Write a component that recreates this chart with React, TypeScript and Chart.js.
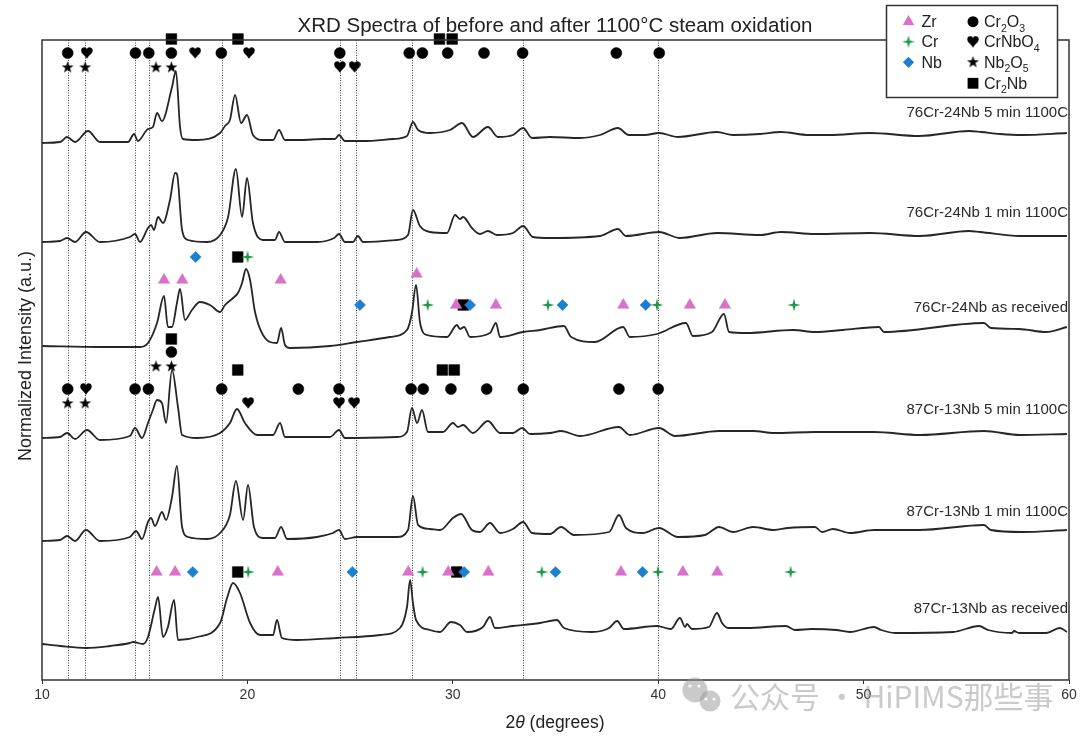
import React, { useEffect, useRef } from 'react';
import { Chart, registerables } from 'chart.js';

Chart.register(...registerables);

const FONT = '"Liberation Sans", Arial, Helvetica, sans-serif';

// ---------------- data ----------------
const xTicks = [10, 20, 30, 40, 50, 60];

// vertical dotted reference lines (2θ)
const refLines = [11.25, 12.1, 14.55, 15.2, 18.75, 24.5, 25.3, 28.0, 33.4, 40.0];

// spectra: [2θ (deg), stacked normalized intensity (a.u.)]
const spec76_5min: [number, number][] = [
  [10.0, 537], [10.88, 538], [11.22, 543], [11.61, 538], [12.24, 549], [12.82, 538], [14.19, 538], [14.48, 546],
  [14.67, 539], [15.16, 551], [15.4, 553], [15.6, 567], [15.84, 559], [16.33, 593], [16.52, 609], [16.72, 553],
  [16.86, 541], [17.55, 540], [18.67, 547], [18.91, 554], [19.15, 560], [19.4, 585], [19.69, 557], [19.98, 565],
  [20.27, 545], [20.76, 540], [21.25, 540], [21.54, 550], [21.83, 540], [22.56, 540], [23.68, 541], [24.26, 541],
  [24.46, 545], [24.75, 539], [25.63, 539], [27.09, 541], [27.77, 544], [28.06, 558], [28.31, 550], [28.89, 547],
  [29.86, 550], [30.45, 557], [30.98, 543], [31.71, 553], [32.2, 543], [32.93, 545], [33.42, 552], [33.86, 542],
  [34.73, 543], [36.19, 542], [37.17, 545], [38.04, 552], [38.57, 545], [39.35, 545], [40.04, 547], [40.96, 543],
  [42.86, 548], [43.64, 545], [44.96, 546], [45.98, 548], [47.34, 545], [48.36, 545], [50.31, 547], [52.7, 544],
  [55.13, 549], [55.72, 548], [56.64, 546], [57.71, 545], [59.9, 547],
];

const spec76_1min: [number, number][] = [
  [10.0, 438], [10.88, 439], [11.22, 442], [11.61, 438], [12.14, 448], [12.82, 438], [14.28, 443], [14.53, 446],
  [14.77, 438], [15.16, 452], [15.31, 455], [15.45, 450], [15.65, 463], [15.89, 457], [16.23, 480], [16.48, 507],
  [16.57, 506], [16.82, 450], [17.11, 440], [18.03, 438], [18.67, 445], [19.06, 463], [19.44, 511], [19.74, 463],
  [19.98, 502], [20.27, 457], [20.76, 440], [21.34, 440], [21.54, 448], [21.83, 438], [23.39, 438], [24.22, 442],
  [24.46, 446], [24.75, 438], [25.14, 438], [25.38, 444], [25.63, 438], [27.28, 440], [27.82, 445], [28.06, 470],
  [28.4, 454], [28.89, 448], [29.72, 447], [30.11, 465], [30.35, 461], [30.5, 463], [30.93, 452], [31.32, 446],
  [31.71, 449], [32.15, 445], [32.93, 447], [33.42, 454], [33.9, 443], [34.73, 442], [37.17, 444], [38.04, 451],
  [38.43, 444], [40.04, 448], [41.06, 442], [42.86, 447], [44.96, 445], [45.98, 448], [47.63, 446], [50.31, 447],
  [52.74, 444], [55.13, 449], [55.67, 448], [57.61, 444], [59.9, 444],
];

const spec76_asrec: [number, number][] = [
  [10.0, 334], [12.82, 333], [14.28, 333], [14.77, 333], [15.16, 337], [15.6, 357], [15.94, 384], [16.13, 353],
  [16.33, 353], [16.57, 377], [16.72, 391], [16.96, 360], [17.3, 370], [17.69, 378], [18.18, 375], [18.67, 368],
  [18.91, 375], [19.3, 382], [19.54, 387], [19.74, 397], [19.93, 411], [20.13, 400], [20.37, 368], [20.76, 345],
  [21.44, 337], [21.64, 352], [21.83, 335], [22.07, 332], [24.02, 334], [25.34, 338], [26.94, 343], [27.77, 350],
  [28.01, 367], [28.21, 395], [28.4, 358], [28.74, 345], [29.72, 343], [30.2, 355], [30.35, 351], [30.55, 353],
  [30.84, 343], [31.81, 347], [32.1, 357], [32.3, 343], [33.42, 348], [34.25, 350], [35.41, 354], [35.76, 343],
  [36.92, 338], [38.29, 353], [38.62, 343], [39.94, 346], [41.35, 357], [41.69, 344], [42.62, 348], [43.2, 366],
  [43.45, 348], [44.32, 347], [46.56, 350], [47.63, 348], [49.0, 350], [50.75, 353], [50.99, 348], [55.86, 357],
  [56.2, 352], [57.57, 351], [58.88, 348], [59.9, 353],
];

const spec87_5min: [number, number][] = [
  [10.0, 242], [10.88, 243], [11.22, 247], [11.61, 241], [12.19, 250], [12.82, 240], [14.28, 244], [14.53, 252],
  [14.87, 242], [15.16, 257], [15.4, 270], [15.6, 280], [15.84, 277], [16.04, 257], [16.33, 310], [16.62, 273],
  [16.82, 245], [17.55, 242], [18.67, 247], [19.15, 257], [19.49, 271], [19.88, 257], [20.47, 245], [21.25, 245],
  [21.59, 257], [21.83, 243], [24.02, 243], [24.46, 250], [24.75, 242], [27.28, 243], [27.77, 248], [28.01, 272],
  [28.26, 257], [28.5, 270], [28.79, 248], [29.52, 248], [30.01, 257], [30.25, 253], [30.5, 255], [30.98, 247],
  [31.71, 259], [32.3, 247], [32.93, 247], [33.37, 252], [33.76, 246], [34.73, 247], [35.27, 249], [36.19, 244],
  [38.09, 253], [38.62, 245], [40.04, 252], [40.82, 244], [42.96, 249], [44.62, 249], [45.64, 247], [47.63, 248],
  [50.51, 248], [52.74, 245], [55.86, 249], [57.61, 245], [59.9, 246],
];

const spec87_1min: [number, number][] = [
  [10.0, 139], [10.88, 140], [11.22, 144], [11.61, 139], [12.14, 150], [12.82, 139], [14.28, 143], [14.58, 149],
  [14.87, 141], [15.16, 158], [15.31, 162], [15.5, 154], [15.84, 168], [16.04, 160], [16.33, 183], [16.57, 214],
  [16.82, 153], [17.11, 143], [18.03, 141], [18.67, 147], [19.15, 165], [19.44, 199], [19.79, 160], [20.03, 195],
  [20.32, 153], [20.76, 142], [21.34, 142], [21.64, 153], [21.93, 141], [23.39, 143], [24.17, 147], [24.46, 150],
  [24.75, 141], [25.34, 143], [27.28, 143], [27.82, 150], [28.06, 184], [28.31, 155], [28.89, 151], [29.38, 150],
  [30.01, 162], [30.4, 166], [30.93, 150], [31.32, 148], [31.81, 157], [32.3, 147], [32.93, 151], [33.42, 158],
  [33.86, 147], [34.73, 146], [35.27, 153], [35.9, 145], [37.61, 148], [38.09, 165], [38.43, 152], [39.25, 147],
  [40.04, 152], [40.96, 143], [42.28, 145], [42.96, 153], [43.64, 148], [44.62, 153], [45.64, 150], [46.32, 152],
  [47.63, 153], [47.98, 148], [48.51, 151], [49.34, 147], [50.51, 150], [52.7, 150], [55.86, 155], [56.2, 150],
  [57.71, 148], [59.9, 150],
];

const spec87_asrec: [number, number][] = [
  [10.0, 36], [10.88, 34], [12.14, 32], [13.31, 34], [14.28, 37], [14.43, 38], [14.92, 36], [15.16, 43],
  [15.5, 72], [15.65, 83], [15.89, 43], [16.13, 53], [16.43, 80], [16.62, 40], [17.55, 43], [18.67, 57],
  [19.01, 82], [19.3, 97], [19.64, 87], [20.13, 57], [20.61, 45], [21.25, 45], [21.44, 60], [21.68, 42],
  [22.41, 40], [24.36, 42], [26.46, 45], [27.43, 52], [27.77, 73], [27.92, 100], [28.06, 77], [28.21, 60],
  [28.89, 50], [29.38, 48], [29.91, 58], [30.35, 55], [30.69, 48], [31.47, 53], [31.81, 63], [32.05, 52],
  [32.93, 54], [34.25, 57], [35.07, 60], [35.41, 52], [36.78, 48], [37.61, 52], [38.0, 59], [38.33, 51],
  [39.94, 54], [40.62, 51], [41.06, 62], [41.31, 53], [41.4, 56], [41.64, 51], [42.47, 53], [42.86, 67],
  [43.11, 57], [43.4, 52], [44.32, 52], [46.22, 54], [46.66, 50], [47.49, 51], [48.66, 50], [49.34, 48],
  [50.51, 53], [50.85, 50], [51.53, 47], [54.35, 48], [55.62, 54], [56.06, 50], [57.23, 47], [57.32, 49],
  [57.57, 47], [58.88, 47], [59.56, 52], [59.9, 48],
];

const spectra = [spec76_5min, spec76_1min, spec76_asrec, spec87_5min, spec87_1min, spec87_asrec];
const spectrumLabels = [
  '76Cr-24Nb 5 min 1100C',
  '76Cr-24Nb 1 min 1100C',
  '76Cr-24Nb as received',
  '87Cr-13Nb 5 min 1100C',
  '87Cr-13Nb 1 min 1100C',
  '87Cr-13Nb as received',
];

// phase peak markers (2θ) — 76Cr-24Nb 5 min
const a_Cr2Nb = [16.3, 19.54, 29.35, 29.97];
const a_Cr2O3 = [11.25, 14.55, 15.2, 16.3, 18.73, 24.5, 27.88, 28.52, 29.75, 31.52, 33.4, 37.96, 40.05];
const a_CrNbO4_upper = [12.18, 17.46, 20.08];
const a_CrNbO4_lower = [24.5, 25.22];
const a_Nb2O5 = [11.25, 12.1, 15.55, 16.3];
// 87Cr-13Nb 5 min
const b_Cr2Nb_upper = [16.3];
const b_Cr2Nb_lower = [19.53, 29.49, 30.07];
const b_Cr2O3_upper = [16.3];
const b_Cr2O3 = [11.25, 14.53, 15.18, 18.75, 22.48, 24.46, 27.97, 28.56, 29.91, 31.65, 33.43, 38.09, 40.0];
const b_CrNbO4_upper = [12.14];
const b_CrNbO4_lower = [20.04, 24.46, 25.2];
const b_Nb2O5_upper = [15.55, 16.3];
const b_Nb2O5_lower = [11.25, 12.1];
// 76Cr-24Nb as received
const c_Nb_upper = [17.48];
const c_Cr2Nb_upper = [19.53];
const c_Cr_upper = [20.01];
const c_Zr_upper = [15.94, 16.83, 21.62];
const c_Zr_peak = [28.24];
const c_Zr_lower = [30.16, 32.1, 38.3, 41.54, 43.25];
const c_Nb_lower = [25.48, 30.84, 35.34, 39.39];
const c_Cr_lower = [28.78, 34.63, 39.94, 46.61];
const c_Cr2Nb_lower = [30.51];
// 87Cr-13Nb as received
const d_Zr = [15.58, 16.48, 21.48, 27.83, 29.78, 31.73, 38.19, 41.2, 42.88];
const d_Nb = [17.34, 25.11, 30.55, 35.0, 39.24];
const d_Cr = [20.04, 28.53, 34.33, 39.99, 46.45];
const d_Cr2Nb = [19.53, 30.19];

// legend entries
const legendCol1 = ['Zr', 'Cr', 'Nb'];
const legendCol2 = ['Cr_2O_3', 'CrNbO_4', 'Nb_2O_5', 'Cr_2Nb'];

// ---------------- layout (positions, not data) ----------------
const LABEL_LEVEL = [563.5, 463.5, 368.5, 266.5, 164.5, 67.5];
const ROW = {
  A_sq: 641, A_top: 627, A_bot: 613,
  B_sq1: 341, B_circ: 328, B_star: 314, B_sq2: 310, B_top: 291, B_bot: 277,
  C_top: 423, C_peak: 406, C_mid: 400, C_bot: 375,
  D: 108,
};

const PINK = '#d772c8';
const GREEN = '#1c9a45';
const BLUE = '#1d7fd1';

const pts = (xs: number[], y: number) => xs.map((x) => ({ x, y }));

function pathStar(ctx: CanvasRenderingContext2D, cx: number, cy: number, R: number, r: number, n: number) {
  ctx.beginPath();
  for (let i = 0; i < n * 2; i++) {
    const rad = i % 2 === 0 ? R : r;
    const ang = -Math.PI / 2 + (i * Math.PI) / n;
    const px = cx + rad * Math.cos(ang);
    const py = cy + rad * Math.sin(ang);
    if (i === 0) ctx.moveTo(px, py);
    else ctx.lineTo(px, py);
  }
  ctx.closePath();
}

function pathHeart(ctx: CanvasRenderingContext2D, cx: number, cy: number, s: number) {
  const w = s, h = s;
  const x0 = cx - w / 2, y0 = cy - h / 2;
  ctx.beginPath();
  ctx.moveTo(cx, y0 + h);
  ctx.bezierCurveTo(x0 + w * 0.35, y0 + h * 0.72, x0, y0 + h * 0.55, x0, y0 + h * 0.28);
  ctx.bezierCurveTo(x0, y0 + h * 0.08, x0 + w * 0.15, y0, x0 + w * 0.28, y0);
  ctx.bezierCurveTo(x0 + w * 0.4, y0, x0 + w * 0.48, y0 + h * 0.08, cx, y0 + h * 0.2);
  ctx.bezierCurveTo(x0 + w * 0.52, y0 + h * 0.08, x0 + w * 0.6, y0, x0 + w * 0.72, y0);
  ctx.bezierCurveTo(x0 + w * 0.85, y0, x0 + w, y0 + h * 0.08, x0 + w, y0 + h * 0.28);
  ctx.bezierCurveTo(x0 + w, y0 + h * 0.55, x0 + w * 0.65, y0 + h * 0.72, cx, y0 + h);
  ctx.closePath();
}

function makeImg(size: number, draw: (ctx: CanvasRenderingContext2D) => void) {
  const c = document.createElement('canvas');
  c.width = size;
  c.height = size;
  const ctx = c.getContext('2d')!;
  draw(ctx);
  return c;
}

function drawSubText(ctx: CanvasRenderingContext2D, text: string, x: number, y: number, size: number) {
  let cx = x;
  let i = 0;
  while (i < text.length) {
    if (text[i] === '_') {
      const t = text[i + 1];
      ctx.font = `${size * 0.66}px ${FONT}`;
      ctx.fillText(t, cx, y + size * 0.28);
      cx += ctx.measureText(t).width;
      i += 2;
    } else {
      let j = i;
      while (j < text.length && text[j] !== '_') j++;
      const t = text.slice(i, j);
      ctx.font = `${size}px ${FONT}`;
      ctx.fillText(t, cx, y);
      cx += ctx.measureText(t).width;
      i = j;
    }
  }
}

export default function App() {
  const ref = useRef<HTMLCanvasElement | null>(null);

  useEffect(() => {
    document.body.style.margin = '0';
    const canvas = ref.current;
    if (!canvas) return;

    const heartImg = makeImg(12, (c) => { c.fillStyle = '#000'; pathHeart(c, 6, 6, 11.5); c.fill(); });
    const star5Img = makeImg(13, (c) => { c.fillStyle = '#000'; pathStar(c, 6.5, 7, 6.3, 2.5, 5); c.fill(); });
    const star4Img = makeImg(14, (c) => { c.fillStyle = GREEN; pathStar(c, 7, 7, 6.6, 1.9, 4); c.fill(); });

    const lineSets = spectra.map((s) => ({
      type: 'scatter' as const,
      data: s.map(([x, y]) => ({ x, y })),
      showLine: true,
      borderColor: '#262626',
      borderWidth: 1.8,
      pointRadius: 0,
      cubicInterpolationMode: 'monotone' as const,
      order: 20,
      borderJoinStyle: 'round' as const,
    }));

    const mk = (data: any[], style: any, color: string, radius: number, order: number) => ({
      type: 'scatter' as const,
      data,
      pointStyle: style,
      pointRadius: radius,
      pointBackgroundColor: color,
      pointBorderColor: color,
      pointBorderWidth: 0.5,
      showLine: false,
      clip: false,
      order,
    });

    const markerSets = [
      mk([...pts(c_Nb_upper, ROW.C_top), ...pts(c_Nb_lower, ROW.C_bot), ...pts(d_Nb, ROW.D)], 'rectRot', BLUE, 5.6, 1),
      mk([...pts(c_Cr_upper, ROW.C_top), ...pts(c_Cr_lower, ROW.C_bot), ...pts(d_Cr, ROW.D)], star4Img, GREEN, 7, 2),
      mk([...pts(c_Zr_upper, ROW.C_mid), ...pts(c_Zr_peak, ROW.C_peak), ...pts(c_Zr_lower, ROW.C_bot), ...pts(d_Zr, ROW.D)], 'triangle', PINK, 6.6, 3),
      mk([...pts(a_Cr2O3, ROW.A_top), ...pts(b_Cr2O3_upper, ROW.B_circ), ...pts(b_Cr2O3, ROW.B_top)], 'circle', '#000', 5.5, 4),
      mk([...pts(a_CrNbO4_upper, ROW.A_top), ...pts(a_CrNbO4_lower, ROW.A_bot), ...pts(b_CrNbO4_upper, ROW.B_top), ...pts(b_CrNbO4_lower, ROW.B_bot)], heartImg, '#000', 6, 4),
      mk([...pts(a_Nb2O5, ROW.A_bot), ...pts(b_Nb2O5_upper, ROW.B_star), ...pts(b_Nb2O5_lower, ROW.B_bot)], star5Img, '#000', 6, 4),
      mk([...pts(a_Cr2Nb, ROW.A_sq), ...pts(b_Cr2Nb_upper, ROW.B_sq1), ...pts(b_Cr2Nb_lower, ROW.B_sq2), ...pts(c_Cr2Nb_upper, ROW.C_top), ...pts(c_Cr2Nb_lower, ROW.C_bot), ...pts(d_Cr2Nb, ROW.D)], 'rect', '#000', 7.6, 6),
    ];

    const overlay = {
      id: 'overlay',
      beforeDatasetsDraw(chart: any) {
        const { ctx, chartArea: a, scales } = chart;
        ctx.save();
        ctx.strokeStyle = '#444';
        ctx.lineWidth = 1;
        ctx.setLineDash([1, 1.5]);
        for (const v of refLines) {
          const px = Math.round(scales.x.getPixelForValue(v)) + 0.5;
          ctx.beginPath();
          ctx.moveTo(px, a.top);
          ctx.lineTo(px, a.bottom);
          ctx.stroke();
        }
        ctx.restore();
      },
      afterDatasetsDraw(chart: any) {
        const { ctx, chartArea: a } = chart;
        ctx.save();
        ctx.strokeStyle = '#333';
        ctx.lineWidth = 1.5;
        ctx.strokeRect(a.left, a.top, a.right - a.left, a.bottom - a.top);
        ctx.restore();
      },
      afterDraw(chart: any) {
        const { ctx, chartArea: a, scales } = chart;
        ctx.save();
        ctx.fillStyle = '#222';
        ctx.textBaseline = 'alphabetic';

        // title
        ctx.font = `20.5px ${FONT}`;
        ctx.textAlign = 'center';
        ctx.fillText('XRD Spectra of before and after 1100°C steam oxidation', 555, 32);

        // spectrum labels
        ctx.font = `15px ${FONT}`;
        ctx.textAlign = 'right';
        ctx.fillStyle = '#2a2a2a';
        spectrumLabels.forEach((t, i) => {
          ctx.fillText(t, a.right - 1, scales.y.getPixelForValue(LABEL_LEVEL[i]));
        });

        // y title
        ctx.save();
        ctx.translate(26, 356);
        ctx.rotate(-Math.PI / 2);
        ctx.textAlign = 'center';
        ctx.textBaseline = 'middle';
        ctx.font = `18px ${FONT}`;
        ctx.fillStyle = '#222';
        ctx.fillText('Normalized Intensity (a.u.)', 0, 0);
        ctx.restore();

        // x title 2θ (degrees)
        ctx.textAlign = 'left';
        ctx.fillStyle = '#222';
        const p1 = '2', p2 = 'θ', p3 = ' (degrees)';
        ctx.font = `17.5px ${FONT}`;
        const w1 = ctx.measureText(p1).width;
        const w3 = ctx.measureText(p3).width;
        ctx.font = `italic 17.5px ${FONT}`;
        const w2 = ctx.measureText(p2).width;
        let xx = 555 - (w1 + w2 + w3) / 2;
        const by = 728;
        ctx.font = `17.5px ${FONT}`;
        ctx.fillText(p1, xx, by);
        xx += w1;
        ctx.font = `italic 17.5px ${FONT}`;
        ctx.fillText(p2, xx, by);
        xx += w2;
        ctx.font = `17.5px ${FONT}`;
        ctx.fillText(p3, xx, by);

        // legend
        const L = 886, T = 5, W = 171, H = 92;
        ctx.fillStyle = '#fff';
        ctx.fillRect(L, T, W, H);
        ctx.strokeStyle = '#333';
        ctx.lineWidth = 1.5;
        ctx.strokeRect(L + 0.5, T + 0.5, W, H);
        const rowsY = [21.7, 41.7, 62.3, 83.3];
        const m1x = 908.5, t1x = 921.5, m2x = 973, t2x = 984;
        // Zr triangle
        ctx.fillStyle = PINK;
        const r = 6.6;
        ctx.beginPath();
        ctx.moveTo(m1x, rowsY[0] - r);
        ctx.lineTo(m1x + r * Math.sin((2 * Math.PI) / 3), rowsY[0] - r * Math.cos((2 * Math.PI) / 3));
        ctx.lineTo(m1x - r * Math.sin((2 * Math.PI) / 3), rowsY[0] - r * Math.cos((2 * Math.PI) / 3));
        ctx.closePath();
        ctx.fill();
        // Cr star4
        ctx.drawImage(star4Img, m1x - 7, rowsY[1] - 7);
        // Nb diamond
        ctx.fillStyle = BLUE;
        ctx.beginPath();
        ctx.moveTo(m1x - 5.6, rowsY[2]);
        ctx.lineTo(m1x, rowsY[2] - 5.6);
        ctx.lineTo(m1x + 5.6, rowsY[2]);
        ctx.lineTo(m1x, rowsY[2] + 5.6);
        ctx.closePath();
        ctx.fill();
        // col2 markers
        ctx.fillStyle = '#000';
        ctx.beginPath();
        ctx.arc(m2x, rowsY[0], 5.5, 0, Math.PI * 2);
        ctx.fill();
        ctx.drawImage(heartImg, m2x - 6, rowsY[1] - 6);
        ctx.drawImage(star5Img, m2x - 6.5, rowsY[2] - 7);
        ctx.fillRect(m2x - 5.4, rowsY[3] - 5.4, 10.8, 10.8);
        // texts
        ctx.fillStyle = '#222';
        legendCol1.forEach((t, i) => drawSubText(ctx, t, t1x, rowsY[i] + 5.6, 16));
        legendCol2.forEach((t, i) => drawSubText(ctx, t, t2x, rowsY[i] + 5.6, 16));

        // watermark
        ctx.fillStyle = 'rgba(150,150,150,0.5)';
        ctx.beginPath();
        ctx.arc(695, 690, 12.5, 0, Math.PI * 2);
        ctx.fill();
        ctx.beginPath();
        ctx.arc(710, 701, 10.5, 0, Math.PI * 2);
        ctx.fill();
        ctx.fillStyle = 'rgba(255,255,255,0.9)';
        [[690, 686], [699, 686], [706, 699], [714, 699]].forEach(([ex, ey]) => {
          ctx.beginPath();
          ctx.arc(ex, ey, 1.6, 0, Math.PI * 2);
          ctx.fill();
        });
        ctx.fillStyle = 'rgba(150,150,150,0.5)';
        ctx.font = '30px "Noto Sans CJK SC", sans-serif';
        ctx.textAlign = 'left';
        ctx.fillText('公众号 · HiPIMS那些事', 730, 708);
        ctx.restore();
      },
    };

    const chart = new Chart(canvas, {
      type: 'scatter',
      data: { datasets: [...markerSets, ...lineSets] as any },
      options: {
        animation: false,
        responsive: false,
        events: [],
        layout: { padding: { left: 42, right: 11, top: 40, bottom: 0 }, autoPadding: false },
        plugins: { legend: { display: false }, tooltip: { enabled: false }, title: { display: false } },
        scales: {
          x: {
            type: 'linear',
            min: 10,
            max: 60,
            afterBuildTicks: (s: any) => { s.ticks = xTicks.map((v) => ({ value: v })); },
            afterFit: (s: any) => { s.height = 60; },
            ticks: { color: '#333', font: { size: 14, family: FONT }, padding: 3, autoSkip: false, maxRotation: 0 },
            grid: { drawOnChartArea: false, drawTicks: true, tickLength: 4, color: '#333', lineWidth: 1 },
            border: { display: false },
          },
          y: { type: 'linear', min: 0, max: 640, display: false },
        },
      } as any,
      plugins: [overlay],
    });
    return () => chart.destroy();
  }, []);

  return (
    <div style={{ width: 1080, height: 740, background: '#fff' }}>
      <canvas ref={ref} width={1080} height={740} />
    </div>
  );
}
